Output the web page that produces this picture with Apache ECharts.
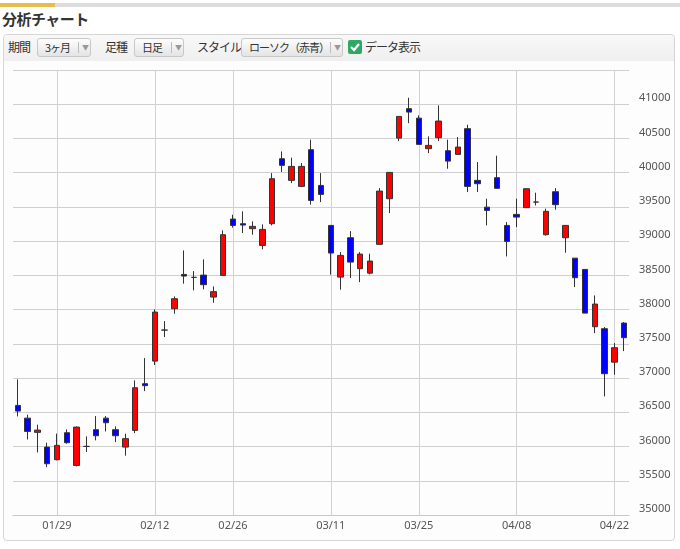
<!DOCTYPE html>
<html>
<head>
<meta charset="utf-8">
<script src="https://cdn.jsdelivr.net/npm/echarts@6/dist/echarts.min.js"></script>
<style>
  html, body { margin: 0; padding: 0; background: #fff; }
  body { width: 680px; height: 549px; position: relative; overflow: hidden;
         font-family: "Noto Sans CJK JP", "Noto Sans", sans-serif; color: #333; }
  #topbar { position: absolute; left: 0; top: 3px; width: 680px; height: 4px; background: #dcdcdc; }
  #topbar .gold { position: absolute; left: 0; top: 0; width: 55px; height: 4px; background: #e5bd4f; }
  #title { position: absolute; left: 2px; top: 8px; font-size: 15px; font-weight: bold; letter-spacing: -0.5px; color: #333; }
  #panel { position: absolute; left: 3px; top: 34px; width: 672px; height: 507px; border: 1px solid #d6d6d6;
           border-radius: 4px; background: #fdfdfd; box-sizing: border-box; }
  #toolbar { position: absolute; left: 0; top: 0; width: 100%; height: 26px;
             background: linear-gradient(#f8f8f8, #efefef); border-radius: 4px 4px 0 0; }
  .lbl { position: absolute; top: 12px; font-size: 12px; line-height: 14px; color: #333; letter-spacing: -1px; }
  .box { position: absolute; top: 3px; height: 19px; border: 1px solid #c8c8c8; border-radius: 3px;
         background: linear-gradient(#fdfdfd, #e4e4e4); box-sizing: border-box; font-size: 11px;
         line-height: 17px; color: #333; letter-spacing: -1px; }
  .box .t { position: absolute; left: 7px; top: 0; }
  .box .sep { position: absolute; top: 3px; width: 1px; height: 11px; background: #bbb; }
  .box .arr { position: absolute; top: 0; font-size: 7px; color: #999; }
  #chk { position: absolute; left: 344px; top: 5px; width: 14px; height: 14px; background: #2fa865; border-radius: 2px; }
  #chk svg { position: absolute; left: 0; top: 0; }
  #chart { position: absolute; left: 0; top: 0; width: 680px; height: 549px; }
</style>
</head>
<body>
<div id="topbar"><div class="gold"></div></div>
<div id="title">分析チャート</div>
<div id="panel">
  <div id="toolbar">
    <div class="lbl" style="left:4px;top:5px;">期間</div>
    <div class="box" style="left:33px;width:54px;"><span class="t">3ヶ月</span><span class="sep" style="left:40px"></span><span class="arr" style="left:44px">▼</span></div>
    <div class="lbl" style="left:101px;top:5px;">足種</div>
    <div class="box" style="left:130px;width:50px;"><span class="t">日足</span><span class="sep" style="left:36px"></span><span class="arr" style="left:40px">▼</span></div>
    <div class="lbl" style="left:193px;top:5px;">スタイル</div>
    <div class="box" style="left:237px;width:102px;"><span class="t">ローソク（赤青）</span><span class="sep" style="left:88px"></span><span class="arr" style="left:92px">▼</span></div>
    <div id="chk"><svg width="14" height="14" viewBox="0 0 14 14"><polyline points="3,7 6,10 11,4" stroke="#ffffff" stroke-width="2.2" fill="none"/></svg></div>
    <div class="lbl" style="left:361px;top:5px;">データ表示</div>
  </div>
</div>
<div id="chart"></div>
<script>
const dates = ['01/23','01/24','01/25','01/26','01/29','01/30','01/31','02/01','02/02','02/05','02/06','02/07','02/08','02/09','02/13','02/14','02/15','02/16','02/19','02/20','02/21','02/22','02/26','02/27','02/28','02/29','03/01','03/04','03/05','03/06','03/07','03/08','03/11','03/12','03/13','03/14','03/15','03/18','03/19','03/21','03/22','03/25','03/26','03/27','03/28','03/29','04/01','04/02','04/03','04/04','04/05','04/08','04/09','04/10','04/11','04/12','04/15','04/16','04/17','04/18','04/19','04/22','04/23'];
const openValues  = [36601,36415,36207,35992,35808,36202,35724,36002,36246,36415,36246,35992,36236,36918,37248,37701,38013,38514,38471,38504,38183,38500,39322,39255,39182,38938,39255,40204,39888,39800,40336,39814,39230,38475,39050,38598,38533,38953,39620,40505,40935,40797,40351,40511,40321,40267,40643,39888,39497,39927,39230,39391,39489,39571,39094,39722,39050,38752,38587,37750,37721,37233,37803];
const closeValues = [36518,36221,36240,35749,36017,36056,36284,36002,36158,36348,36158,36115,36859,36889,37964,37701,38159,38490,38471,38364,38262,39094,39230,39235,39216,39172,39912,40107,40092,40092,39595,39683,38826,38792,38694,38811,38709,39731,40004,40822,40885,40413,40399,40754,40169,40374,39800,39839,39449,39771,38996,39351,39766,39571,39435,39533,39230,38466,37949,38081,37064,37444,37590];
const lowValues   = [36440,36104,35914,35700,35798,36041,35710,35919,36090,36221,36065,35866,36196,36810,37190,37599,37940,38379,38281,38295,38101,38490,39197,39118,39094,38880,39230,40009,39848,39790,39533,39571,38510,38291,38460,38402,38514,38953,39410,40462,40724,40413,40286,40462,40058,40267,39717,39717,39230,39771,38777,39205,39489,39522,39080,39459,38831,38329,37949,37657,36732,37049,37394];
const highValues  = [36981,36465,36319,36056,36188,36250,36294,36148,36445,36445,36294,36188,36966,37292,38003,37832,38193,38865,38563,38734,38339,39157,39386,39435,39289,39245,39994,40311,40219,40140,40482,39994,39230,38840,39147,38840,38817,39775,40004,40822,41095,40837,40530,40983,40482,40520,40701,40155,39620,40248,39278,39620,39766,39708,39474,39775,39230,38752,38587,38208,37745,37511,37818];
const tickLabels = ['01/29','02/12','02/26','03/11','03/25','04/08','04/22'];

// category index for each tick label: first trading day on/after the label date
const tickIndex = {};
tickLabels.forEach(function (lab) {
  for (let i = 0; i < dates.length; i++) {
    if (dates[i] >= lab) { tickIndex[i] = lab; break; }
  }
});
const showTick = function (index) { return tickIndex[index] !== undefined; };

const candleData = dates.map(function (d, i) {
  return [openValues[i], closeValues[i], lowValues[i], highValues[i]];
});

const chart = echarts.init(document.getElementById('chart'), null, { renderer: 'canvas' });
chart.setOption({
  animation: false,
  backgroundColor: 'transparent',
  grid: { left: 13, right: 51, top: 70, bottom: 34, containLabel: false },
  xAxis: {
    type: 'category',
    data: dates,
    boundaryGap: true,
    axisLine: { show: true, lineStyle: { color: '#b6cde6', width: 1 } },
    axisTick: { show: false },
    axisLabel: {
      interval: showTick,
      formatter: function (v, i) { return tickIndex[i] || ''; },
      color: '#555', fontSize: 11, margin: 5,
      fontFamily: 'Noto Sans'
    },
    splitLine: {
      show: true, alignWithLabel: true, interval: showTick,
      lineStyle: { color: '#d2d2d2', width: 1 }
    }
  },
  yAxis: {
    type: 'value',
    position: 'right',
    min: 35000, max: 41500, interval: 500,
    scale: true,
    axisLine: { show: false },
    axisTick: { show: false },
    axisLabel: {
      color: '#555', fontSize: 11, margin: 10, showMaxLabel: false,
      verticalAlign: 'bottom', lineHeight: 12,
      fontFamily: 'Noto Sans',
      formatter: function (v) { return String(v); }
    },
    splitLine: { show: true, lineStyle: { color: '#d0d0d0', width: 1 } }
  },
  series: [{
    type: 'candlestick',
    data: candleData,
    barWidth: 6,
    itemStyle: {
      color: '#ff0000', color0: '#0000ff',
      borderColor: '#333333', borderColor0: '#333333',
      borderColorDoji: '#333333',
      borderWidth: 1
    }
  }]
});
</script>
</body>
</html>
